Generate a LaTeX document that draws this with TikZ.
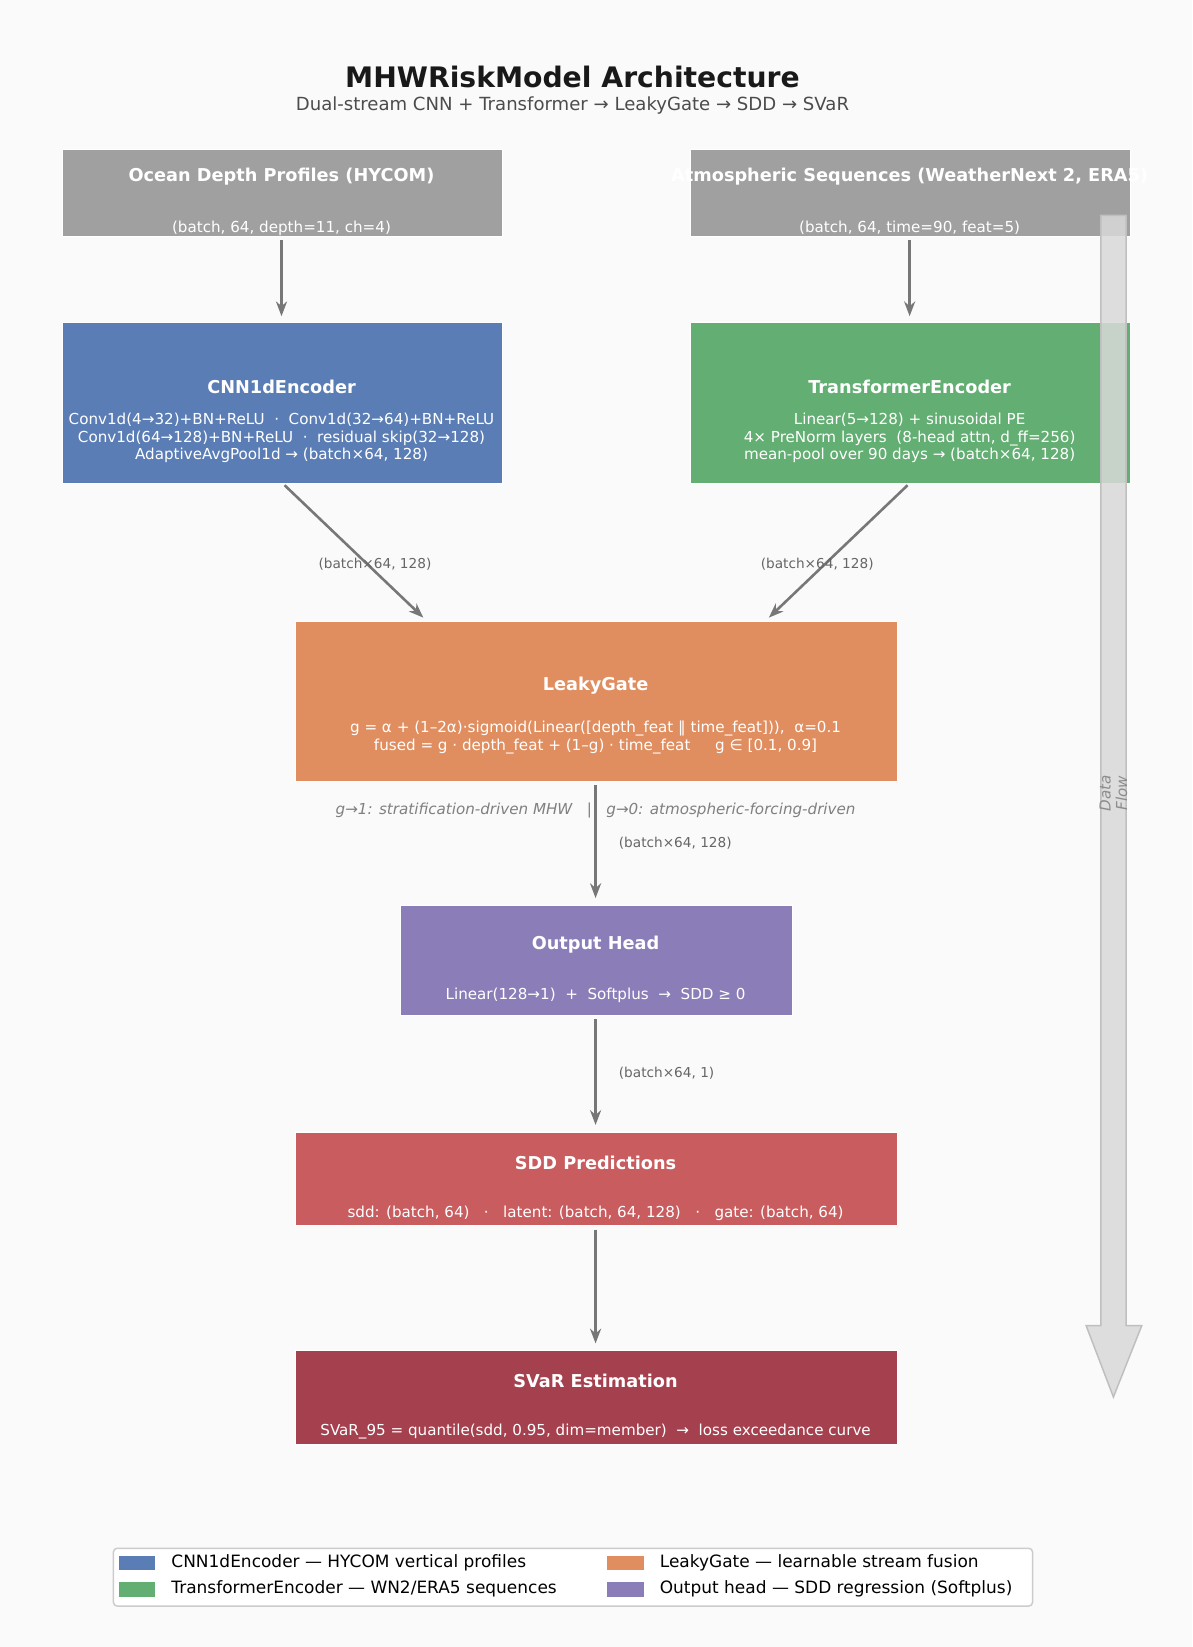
\documentclass[tikz,border=0pt]{standalone}
\usepackage{fontspec}
\setmainfont{DejaVu Sans}
\usetikzlibrary{arrows.meta}
\definecolor{bg}{HTML}{FAFAFA}
\definecolor{cgray}{HTML}{A0A0A0}
\definecolor{cblue}{HTML}{5A7DB5}
\definecolor{cgreen}{HTML}{63AE72}
\definecolor{corange}{HTML}{E08E60}
\definecolor{cpurple}{HTML}{8B7EB8}
\definecolor{cred}{HTML}{C85C5E}
\definecolor{cdred}{HTML}{A5404E}
\definecolor{arr}{HTML}{777777}
\begin{document}
\begin{tikzpicture}[x=0.02cm,y=-0.02cm,
 box/.style={draw=white,line width=0.6pt,inner sep=0},
 ttl/.style={text=white,font=\fontsize{9.6}{11}\selectfont\bfseries},
 bod/.style={text=white,font=\fontsize{8.2}{9.6}\selectfont,align=center},
 lab/.style={text=black!60,font=\fontsize{7.4}{9}\selectfont},
 flow/.style={draw=arr,line width=1.4pt,-{Stealth[length=8pt,width=6pt]}}]
\fill[bg] (0,0) rectangle (1135,1568);
\useasboundingbox (0,0) rectangle (1135,1568);
\node[font=\fontsize{15.3}{18}\selectfont\bfseries,text=black!90] (title) at (545,73) {MHWRiskModel Architecture};
\node[font=\fontsize{9.8}{12}\selectfont,text=black!70] (sub) at (545,100) {Dual-stream CNN + Transformer → LeakyGate → SDD → SVaR};
% boxes
\fill[cgray,draw=white] (59,142) rectangle (478,225);
\fill[cgray,draw=white] (657,142) rectangle (1076,225);
\fill[cblue,draw=white] (59,307) rectangle (478,460);
\fill[cgreen,draw=white] (657,307) rectangle (1076,460);
\fill[corange,draw=white] (281,592) rectangle (854,744);
\fill[cpurple,draw=white] (381,862) rectangle (754,967);
\fill[cred,draw=white] (281,1078) rectangle (854,1167);
\fill[cdred,draw=white] (281,1286) rectangle (854,1375);
\coordinate (oc) at (268,225); \coordinate (at) at (866,225);
\coordinate (cnnT) at (268,307); \coordinate (trT) at (866,307);
\coordinate (cnnB) at (271,462); \coordinate (trB) at (864,462);
\coordinate (gL) at (403,588); \coordinate (gR) at (732,588);
\coordinate (gB) at (567,744); \coordinate (hT) at (567,862);
\coordinate (hB) at (567,967); \coordinate (sT) at (567,1078);
\coordinate (sB) at (567,1167); \coordinate (vT) at (567,1286);
\node[ttl] (t1) at (268,168) {Ocean Depth Profiles (HYCOM)};
\node[bod] (b1) at (268,217) {(batch, 64, depth=11, ch=4)};
\node[ttl] (t2) at (866,168) {Atmospheric Sequences (WeatherNext 2, ERA5)};
\node[bod] (b2) at (866,217) {(batch, 64, time=90, feat=5)};
\node[ttl] (t3) at (268,368) {CNN1dEncoder};
\node[bod] (b3) at (268,417) {Conv1d(4→32)+BN+ReLU \ · \ Conv1d(32→64)+BN+ReLU\\Conv1d(64→128)+BN+ReLU \ · \ residual skip(32→128)\\AdaptiveAvgPool1d → (batch×64, 128)};
\node[ttl] (t4) at (866,368) {TransformerEncoder};
\node[bod] (b4) at (866,417) {Linear(5→128) + sinusoidal PE\\4× PreNorm layers \ (8-head attn, d\_ff=256)\\mean-pool over 90 days → (batch×64, 128)};
\node[ttl] (t5) at (567,653) {LeakyGate};
\node[bod] (b5) at (567,702) {g = α + (1–2α)·sigmoid(Linear([depth\_feat ‖ time\_feat])), \ α=0.1\\fused = g · depth\_feat + (1–g) · time\_feat \quad\ g ∈ [0.1, 0.9]};
\node[ttl] (t6) at (567,899) {Output Head};
\node[bod] (b6) at (567,948) {Linear(128→1) \ + \ Softplus \ → \ SDD ≥ 0};
\node[ttl] (t7) at (567,1107) {SDD Predictions};
\node[bod] (b7) at (567,1155) {sdd: (batch, 64) \ \ · \ \ latent: (batch, 64, 128) \ \ · \ \ gate: (batch, 64)};
\node[ttl] (t8) at (567,1315) {SVaR Estimation};
\node[bod] (b8) at (567,1363) {SVaR\_95 = quantile(sdd, 0.95, dim=member) \ → \ loss exceedance curve};
% arrows
\draw[flow,shorten <=2pt,shorten >=3.4pt] (oc) -- (cnnT);
\draw[flow,shorten <=2pt,shorten >=3.4pt] (at) -- (trT);
\draw[flow] (cnnB) -- (gL);
\draw[flow] (trB) -- (gR);
\draw[flow,shorten <=2pt,shorten >=4pt] (gB) -- (hT);
\draw[flow,shorten <=2pt,shorten >=4pt] (hB) -- (sT);
\draw[flow,shorten <=2pt,shorten >=4pt] (sB) -- (vT);
\node[lab] (l1) at (357,537) {(batch×64, 128)};
\node[lab] (l2) at (778,537) {(batch×64, 128)};
\node[lab,anchor=west] (l3) at (583,803) {(batch×64, 128)};
\node[lab,anchor=west] (l4) at (583,1022) {(batch×64, 1)};
\node[text=black!50,font=\fontsize{8.2}{10}\selectfont\itshape] (gt) at (567,772) {g→1: stratification-driven MHW \ \ | \ \ g→0: atmospheric-forcing-driven};
% data flow arrow
\draw[draw=black!25,fill=black!15,fill opacity=0.85,line width=0.8pt] (1048,205) -- (1072,205) -- (1072,1262) -- (1087,1262) -- (1060,1330) -- (1034,1262) -- (1048,1262) -- cycle;
\node[rotate=90,text=black!45,font=\fontsize{8.2}{9}\selectfont\itshape,align=center] (df) at (1060,755) {Data\\Flow};
% legend
\draw[black!20,fill=white,rounded corners=2pt,line width=0.8pt] (108,1474) rectangle (983,1529);
\fill[cblue] (113,1481) rectangle (148,1495);
\fill[cgreen] (113,1506) rectangle (148,1520);
\fill[corange] (578,1481) rectangle (613,1495);
\fill[cpurple] (578,1506) rectangle (613,1520);
\node[anchor=west,font=\fontsize{9.2}{11}\selectfont] (lg1) at (157,1488) {CNN1dEncoder — HYCOM vertical profiles};
\node[anchor=west,font=\fontsize{9.2}{11}\selectfont] (lg2) at (157,1513) {TransformerEncoder — WN2/ERA5 sequences};
\node[anchor=west,font=\fontsize{9.2}{11}\selectfont] (lg3) at (622,1488) {LeakyGate — learnable stream fusion};
\node[anchor=west,font=\fontsize{9.2}{11}\selectfont] (lg4) at (622,1513) {Output head — SDD regression (Softplus)};
\end{tikzpicture}
\end{document}
